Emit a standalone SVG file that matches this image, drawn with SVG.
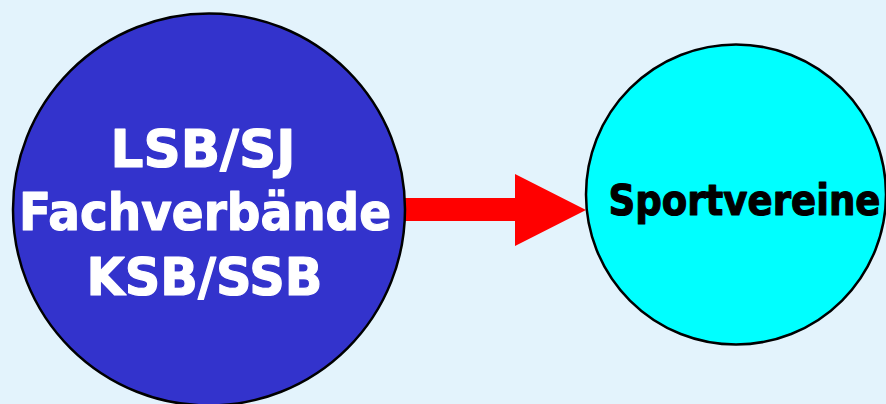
<svg xmlns="http://www.w3.org/2000/svg" width="886" height="404" viewBox="0 0 886 404">
  <style>
    .node { stroke: #000000; stroke-width: 2.5; }
    .lbl { font-family: "DejaVu Sans", Verdana, sans-serif; font-weight: bold; text-anchor: middle; stroke-width: 1.2; stroke-linejoin: round; }
    .white { fill: #FFFFFF; stroke: #FFFFFF; }
    .black { fill: #000000; stroke: #000000; }
  </style>
  <rect x="0" y="0" width="886" height="404" fill="#E3F3FC"/>
  <g id="connectors">
    <polygon fill="#FF0000" points="405,198 515,198 515,174 586,210 515,246 515,221 405,221"/>
  </g>
  <g id="node-verbaende">
    <circle class="node" cx="209" cy="209.5" r="196" fill="#3333CC"/>
    <text class="lbl white" font-size="51" x="203" y="167" textLength="185" lengthAdjust="spacingAndGlyphs">LSB/SJ</text>
    <text class="lbl white" font-size="51" x="205" y="230" textLength="372" lengthAdjust="spacingAndGlyphs">Fachverbände</text>
    <text class="lbl white" font-size="51" x="204.5" y="295" textLength="236" lengthAdjust="spacingAndGlyphs">KSB/SSB</text>
  </g>
  <g id="node-sportvereine">
    <circle class="node" cx="736" cy="194.5" r="150" fill="#00FFFF"/>
    <text class="lbl black" font-size="43" x="744.5" y="215" textLength="272" lengthAdjust="spacingAndGlyphs">Sportvereine</text>
  </g>
</svg>
